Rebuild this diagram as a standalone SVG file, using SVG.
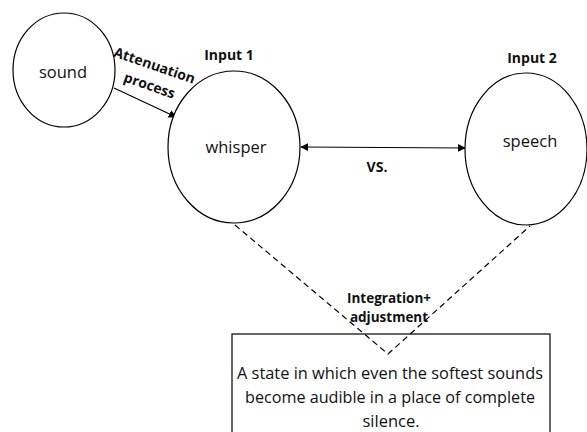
<svg xmlns="http://www.w3.org/2000/svg" width="587" height="432" viewBox="0 0 587 432">
  <defs>
    <marker id="arrow" viewBox="0 0 10 10" refX="9" refY="5" markerWidth="8" markerHeight="8" markerUnits="userSpaceOnUse" orient="auto-start-reverse">
      <path d="M0,0 L10,5 L0,10 z" fill="#000"/>
    </marker>
    <style>
      .node { fill: #fff; stroke: #000; stroke-width: 1.2; }
      .label { font-family: "Open Sans", "Liberation Sans", sans-serif; font-size: 16.5px; fill: #111; text-anchor: middle; }
      .note { font-family: "Open Sans", "Liberation Sans", sans-serif; font-size: 16.5px; fill: #111; text-anchor: middle; }
      .bold { font-family: "Open Sans", "Liberation Sans", sans-serif; font-size: 14px; font-weight: bold; fill: #111; text-anchor: middle; }
      .small { font-size: 13.5px; }
      .edge { stroke: #000; stroke-width: 1.2; fill: none; }
      .dash { stroke: #000; stroke-width: 1.2; fill: none; stroke-dasharray: 6 4; }
    </style>
  </defs>
  <rect width="587" height="432" fill="#fff"/>

  <g id="connectors">
    <line class="edge" x1="114" y1="88" x2="176" y2="117" marker-end="url(#arrow)"/>
    <line class="edge" x1="301" y1="147" x2="465" y2="148" marker-start="url(#arrow)" marker-end="url(#arrow)"/>
    <polyline class="dash" points="235,225 388,354 530,226"/>
  </g>

  <g id="sound">
    <ellipse class="node" cx="64" cy="70" rx="51" ry="57"/>
    <text class="label" x="63" y="78">sound</text>
  </g>

  <g id="attenuation-label">
    <text class="bold" transform="translate(153,70) rotate(19)">Attenuation</text>
    <text class="bold" transform="translate(148,90) rotate(19)">process</text>
  </g>

  <g id="whisper">
    <text class="bold" x="229" y="60">Input 1</text>
    <ellipse class="node" cx="234" cy="147" rx="66" ry="76"/>
    <text class="label" x="236" y="153">whisper</text>
  </g>

  <g id="vs-label">
    <text class="bold" x="377" y="172">VS.</text>
  </g>

  <g id="speech">
    <text class="bold" x="532" y="63">Input 2</text>
    <ellipse class="node" cx="526" cy="149" rx="61" ry="76"/>
    <text class="label" x="530" y="147">speech</text>
  </g>

  <g id="integration-label">
    <text class="bold small" x="389" y="303">Integration+</text>
    <text class="bold small" x="389" y="322">adjustment</text>
  </g>

  <g id="state">
    <rect class="node" x="232" y="334" width="318" height="110" fill-opacity="0"/>
    <text class="note" x="390" y="379" textLength="306" lengthAdjust="spacingAndGlyphs">A state in which even the softest sounds</text>
    <text class="note" x="390" y="403" textLength="290" lengthAdjust="spacingAndGlyphs">become audible in a place of complete</text>
    <text class="note" x="391" y="427">silence.</text>
  </g>
</svg>
